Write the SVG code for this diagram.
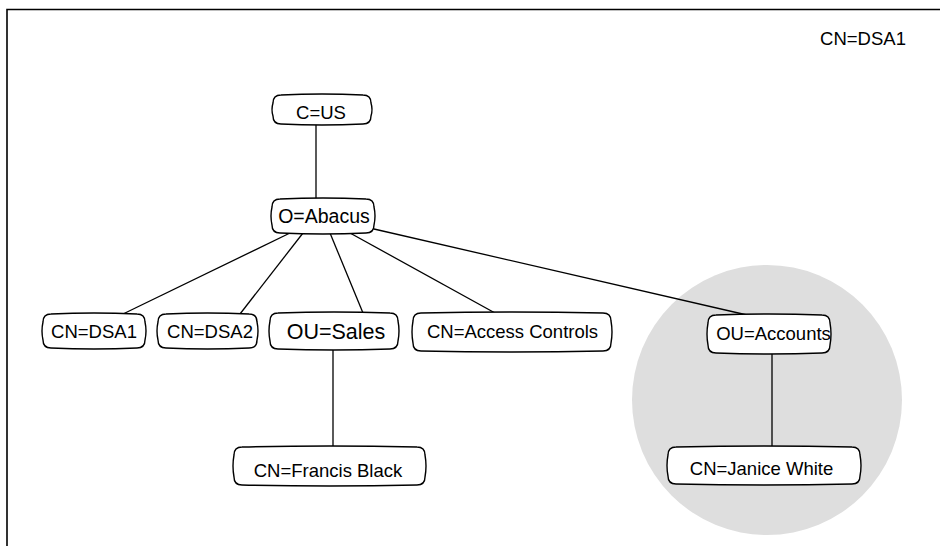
<svg xmlns="http://www.w3.org/2000/svg" width="940" height="546" viewBox="0 0 940 546">
<style>
.frame{fill:none;stroke:#000;stroke-width:1.6}
.node{fill:#fff;stroke:#000;stroke-width:1.4}
.edge{fill:none;stroke:#000;stroke-width:1.3}
.t{font-family:"Liberation Sans",Arial,sans-serif;font-size:18.5px;fill:#000;text-anchor:middle}
.big{font-size:21.5px}
</style>
<rect width="940" height="546" fill="#fff"/>
<path class="frame" d="M7,546 V9.5 H940"/>
<circle cx="767" cy="400" r="135" fill="#dedede"/>
<text class="t" x="863" y="45">CN=DSA1</text>
<g id="connectors">
<line class="edge" x1="316" y1="124" x2="316" y2="199"/>
<line class="edge" x1="290" y1="233" x2="123" y2="314"/>
<line class="edge" x1="303" y1="233" x2="240" y2="314"/>
<line class="edge" x1="330" y1="233" x2="363" y2="313"/>
<line class="edge" x1="350" y1="233" x2="495" y2="313"/>
<line class="edge" x1="374" y1="229" x2="747" y2="315"/>
<line class="edge" x1="333" y1="349" x2="333" y2="447"/>
<line class="edge" x1="772" y1="353" x2="772" y2="447"/>
</g>
<g id="n-cus">
<path class="node" d="M281,95 Q322,93 363,95 Q371,95 371,103 Q373,109.5 371,116 Q371,124 363,124 Q322,126 281,124 Q273,124 273,116 Q271,109.5 273,103 Q273,95 281,95 Z"/>
<text class="t" x="321" y="119">C=US</text>
</g>
<g id="n-abacus">
<path class="node" d="M280,199 Q323,197 366,199 Q374,199 374,207 Q376,216 374,225 Q374,233 366,233 Q323,235 280,233 Q272,233 272,225 Q270,216 272,207 Q272,199 280,199 Z"/>
<text class="t" x="324" y="223" style="font-size:19.5px">O=Abacus</text>
</g>
<g id="n-dsa1">
<path class="node" d="M51,314 Q94,312 137,314 Q145,314 145,322 Q147,331 145,340 Q145,348 137,348 Q94,350 51,348 Q43,348 43,340 Q41,331 43,322 Q43,314 51,314 Z"/>
<text class="t" x="94" y="338">CN=DSA1</text>
</g>
<g id="n-dsa2">
<path class="node" d="M166,314 Q207.5,312 249,314 Q257,314 257,322 Q259,331 257,340 Q257,348 249,348 Q207.5,350 166,348 Q158,348 158,340 Q156,331 158,322 Q158,314 166,314 Z"/>
<text class="t" x="210" y="338">CN=DSA2</text>
</g>
<g id="n-sales">
<path class="node" d="M278,313 Q334,311 390,313 Q398,313 398,321 Q400,331 398,341 Q398,349 390,349 Q334,351 278,349 Q270,349 270,341 Q268,331 270,321 Q270,313 278,313 Z"/>
<text class="t big" x="336" y="339">OU=Sales</text>
</g>
<g id="n-access">
<path class="node" d="M421,313 Q512,311 603,313 Q611,313 611,321 Q613,332 611,343 Q611,351 603,351 Q512,353 421,351 Q413,351 413,343 Q411,332 413,321 Q413,313 421,313 Z"/>
<text class="t" x="512.5" y="338">CN=Access Controls</text>
</g>
<g id="n-accounts">
<path class="node" d="M716,315 Q769,313 822,315 Q830,315 830,323 Q832,334 830,345 Q830,353 822,353 Q769,355 716,353 Q708,353 708,345 Q706,334 708,323 Q708,315 716,315 Z"/>
<text class="t" x="773.5" y="340">OU=Accounts</text>
</g>
<g id="n-francis">
<path class="node" d="M242,447 Q329.5,445 417,447 Q425,447 425,455 Q427,466 425,477 Q425,485 417,485 Q329.5,487 242,485 Q234,485 234,477 Q232,466 234,455 Q234,447 242,447 Z"/>
<text class="t" x="328" y="477">CN=Francis Black</text>
</g>
<g id="n-janice">
<path class="node" d="M676,447 Q764,445 852,447 Q860,447 860,455 Q862,465.5 860,476 Q860,484 852,484 Q764,486 676,484 Q668,484 668,476 Q666,465.5 668,455 Q668,447 676,447 Z"/>
<text class="t" x="761.5" y="475">CN=Janice White</text>
</g>
</svg>
